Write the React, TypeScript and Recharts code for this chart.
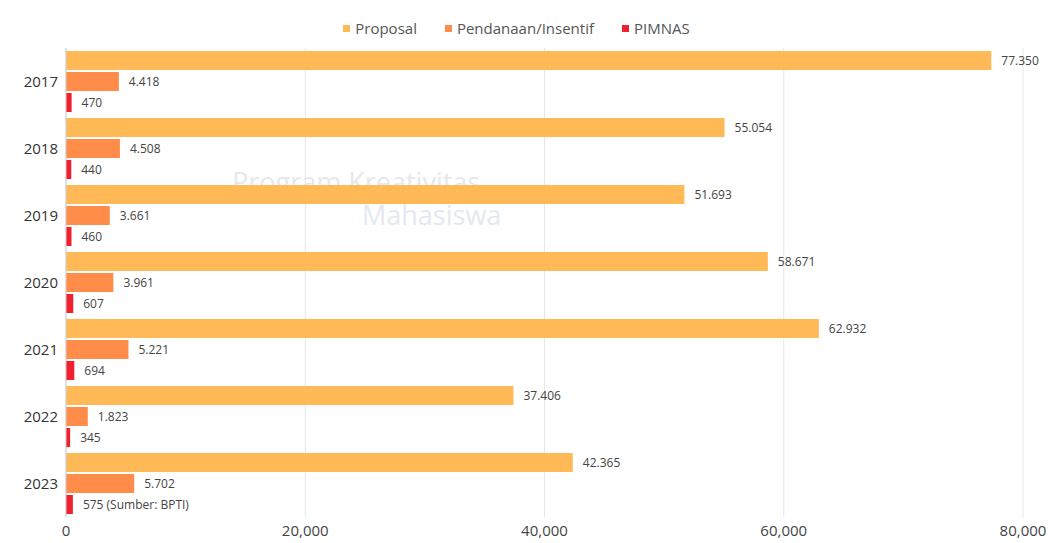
import React from "react";
import {
  BarChart,
  Bar,
  XAxis,
  YAxis,
  CartesianGrid,
  Legend,
  LabelList,
} from "recharts";

const YEARS = ["2017", "2018", "2019", "2020", "2021", "2022", "2023"];
const PROPOSAL = [77350, 55054, 51693, 58671, 62932, 37406, 42365];
const PENDANAAN = [4418, 4508, 3661, 3961, 5221, 1823, 5702];
const PIMNAS = [470, 440, 460, 607, 694, 345, 575];
const X_TICKS = [0, 20000, 40000, 60000, 80000];

const SERIES = [
  { key: "proposal", name: "Proposal", color: "#FFB957" },
  { key: "pendanaan", name: "Pendanaan/Insentif", color: "#FF8C48" },
  { key: "pimnas", name: "PIMNAS", color: "#F0202E" },
];
const FONT = "'Open Sans', sans-serif";

const fmt = (v: number) => v.toLocaleString("id-ID");

const data = YEARS.map((year, i) => ({
  year,
  proposal: PROPOSAL[i],
  pendanaan: PENDANAAN[i],
  pimnas: PIMNAS[i],
  proposalLabel: fmt(PROPOSAL[i]),
  pendanaanLabel: fmt(PENDANAAN[i]),
  pimnasLabel: i === YEARS.length - 1 ? `${fmt(PIMNAS[i])} (Sumber: BPTI)` : fmt(PIMNAS[i]),
}));

const labelStyle = { fill: "#444", fontSize: 12, fontFamily: FONT };

// legend in series order (recharts sorts by name otherwise)
const renderLegend = () => (
  <div style={{ display: "flex", justifyContent: "center", gap: 28, fontSize: 15, color: "#555" }}>
    {SERIES.map((s) => (
      <span key={s.key} style={{ display: "flex", alignItems: "center" }}>
        <span style={{ width: 7, height: 7, background: s.color, marginRight: 5, display: "inline-block" }} />
        {s.name}
      </span>
    ))}
  </div>
);

const watermark = { position: "absolute" as const, color: "#e4e8ef", fontFamily: FONT, fontSize: 27, whiteSpace: "nowrap" as const };

export default function App() {
  return (
    <div style={{ position: "absolute", left: 0, top: 0, width: 1063, height: 543, background: "#fff" }}>
      <div style={{ ...watermark, left: 232, top: 163 }}>Program Kreativitas</div>
      <div style={{ ...watermark, left: 362, top: 196 }}>Mahasiswa</div>
      <BarChart
        width={1063}
        height={543}
        data={data}
        layout="vertical"
        margin={{ top: 18, right: 40, bottom: 0, left: 10 }}
        barCategoryGap={3}
        barGap={2}
        style={{ fontFamily: FONT }}
      >
        <CartesianGrid horizontal={false} stroke="#e6e6e6" />
        <XAxis
          type="number"
          domain={[0, 80000]}
          ticks={X_TICKS}
          tickFormatter={(v: number) => v.toLocaleString("en-US")}
          axisLine={false}
          tickLine={false}
          tick={{ fill: "#444", fontSize: 15 }}
          height={26}
        />
        <YAxis
          type="category"
          dataKey="year"
          width={56}
          axisLine={{ stroke: "#cfcfcf" }}
          tickLine={false}
          tick={{ fill: "#333", fontSize: 15 }}
        />
        <Legend verticalAlign="top" align="center" height={30} content={renderLegend} />
        {SERIES.map((s) => (
          <Bar key={s.key} dataKey={s.key} name={s.name} fill={s.color} isAnimationActive={false}>
            <LabelList dataKey={`${s.key}Label`} position="right" offset={10} style={labelStyle} />
          </Bar>
        ))}
      </BarChart>
    </div>
  );
}
